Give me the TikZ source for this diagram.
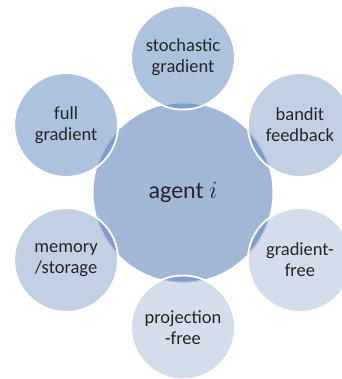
\documentclass[tikz,border=0pt]{standalone}
\usepackage{fontspec}
\setmainfont{Carlito}
\usetikzlibrary{calc}
\begin{document}
\begin{tikzpicture}[x=1pt,y=1pt,
  lbl/.style={text=txtcol,font=\fontsize{18.5}{21}\selectfont,align=center,inner sep=0pt},
  outer/.style={circle,minimum size=104pt,draw=white,line width=2pt,lbl},
  hub/.style={circle,minimum size=180pt,fill=hubcol,draw=white,line width=1pt,text=txtcol,font=\fontsize{24}{28}\selectfont,inner sep=0pt}]
\definecolor{txtcol}{HTML}{262626}
\definecolor{hubcol}{HTML}{A2B7D5}
\definecolor{c1}{HTML}{ADC2DD}
\definecolor{c2}{HTML}{C2D0E4}
\definecolor{c3}{HTML}{D3DDEB}
\definecolor{lenscol}{HTML}{809ECA}
\useasboundingbox (0,0) rectangle (341,-379);
\node[hub] (agent) at (183,-192.5) {agent $i$};
\node[outer,fill=c1] (sg) at ($(agent)+(90:135)$) {stochastic\\gradient};
\node[outer,fill=c2] (bf) at ($(agent)+(30:135)$) {bandit\\feedback};
\node[outer,fill=c3] (gf) at ($(agent)+(-30:135)$) {gradient-\\free};
\node[outer,fill=c3] (pf) at ($(agent)+(-90:135)$) {projection\\-free};
\node[outer,fill=c2] (ms) at ($(agent)+(-150:135)$) {memory\\/storage};
\node[outer,fill=c1] (fg) at ($(agent)+(150:135)$) {full\\gradient};
\foreach \n in {sg,bf,gf,pf,ms,fg}{
  \begin{scope}
    \clip (\n) circle (51);
    \fill[lenscol] (agent) circle (90);
    \draw[white,opacity=.5,line width=.6pt] (agent) circle (89.5);
  \end{scope}
}
\end{tikzpicture}
\end{document}
